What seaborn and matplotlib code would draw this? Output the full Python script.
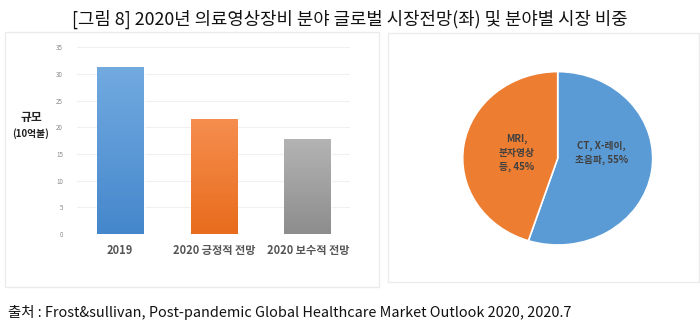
import numpy as np
import pandas as pd
import matplotlib
matplotlib.use("Agg")
import matplotlib.pyplot as plt
from matplotlib.patches import Rectangle
import seaborn as sns

# Market size (billion USD) by scenario
categories = ["2019", "2020 긍정적 전망", "2020 보수적 전망"]
market_size = [31.3, 21.6, 17.9]
y_ticks = [0, 5, 10, 15, 20, 25, 30, 35]

# Segment share of the market (%)
segments = ["CT, X-레이,\n초음파", "MRI,\n분자영상\n등"]
shares = [55, 45]

bar_tops = ["#72aae0", "#f68e4f", "#b4b4b4"]
bar_bottoms = ["#4587cc", "#e86c1c", "#8d8d8d"]
pie_colors = ["#5b9bd5", "#ed7d31"]

sns.set_theme(style="white")
plt.rcParams["font.family"] = ["Noto Sans CJK KR", "DejaVu Sans"]

W, H = 700, 325
fig = plt.figure(figsize=(W / 100, H / 100), dpi=100)
fig.patch.set_facecolor("white")


def fx(px):
    return px / W


def fy(py):
    return 1 - py / H


# panel frames
for x0, y0, x1, y1 in [(5, 32, 379, 287), (388, 33, 699, 282)]:
    fig.patches.append(Rectangle((fx(x0), fy(y1)), fx(x1 - x0), (y1 - y0) / H,
                                 transform=fig.transFigure, fill=False,
                                 edgecolor="#ebebeb", linewidth=1.0))

fig.text(0.5, fy(19), "[그림 8] 2020년 의료영상장비 분야 글로벌 시장전망(좌) 및 분야별 시장 비중",
         ha="center", va="center", fontsize=12.8, color="#111111")
fig.text(fx(8), fy(312), "출처 : Frost&sullivan, Post-pandemic Global Healthcare Market Outlook 2020, 2020.7",
         ha="left", va="center", fontsize=10.4, color="#111111")

# ---- bar chart ----
ax = fig.add_axes([fx(77), fy(234), fx(350 - 77), (234 - 47.3) / H])
df = pd.DataFrame({"cat": categories, "size": market_size})
sns.barplot(data=df, x="cat", y="size", ax=ax, width=0.5,
            palette=bar_bottoms, hue="cat", legend=False, saturation=1)
ax.set_yticks(y_ticks)
ax.set_yticklabels([str(t) for t in y_ticks], fontsize=4.5, color="#888888")
ax.tick_params(axis="y", length=0, pad=10)
ax.tick_params(axis="x", length=0, pad=7)
ax.set_xticks(range(len(categories)))
ax.set_xticklabels(categories, fontsize=8, color="#555555", fontweight="bold")
ax.yaxis.grid(True, color="#f0f0f0", linewidth=0.8)
ax.set_axisbelow(True)
for s in ax.spines.values():
    s.set_visible(False)
ax.set_xlabel("")
ax.set_ylabel("")

# vertical gradient fill on each bar
for patch, top, bot in zip(ax.patches, bar_tops, bar_bottoms):
    x0, y0 = patch.get_x(), patch.get_y()
    w, h = patch.get_width(), patch.get_height()
    c_top = np.array(matplotlib.colors.to_rgb(top))
    c_bot = np.array(matplotlib.colors.to_rgb(bot))
    t = np.linspace(0, 1, 256)[:, None]
    grad = (c_top * (1 - t) + c_bot * t)[:, None, :]
    im = ax.imshow(grad, extent=[x0, x0 + w, y0, y0 + h], origin="upper",
                   aspect="auto", zorder=patch.get_zorder() + 0.1)
    im.set_clip_path(patch)
ax.set_xlim(-0.46, 2.45)
ax.set_ylim(0, 35)

fig.text(fx(31), fy(118), "규모", ha="center", va="center", fontsize=8.5,
         fontweight="bold", color="#222222")
fig.text(fx(31), fy(134), "(10억불)", ha="center", va="center", fontsize=7,
         fontweight="bold", color="#222222")

# ---- pie chart ----
pax = fig.add_axes([fx(462.7), fy(245), fx(190), 173.4 / H])
wedges, _ = pax.pie(shares, colors=pie_colors, startangle=90, counterclock=False,
                    wedgeprops=dict(edgecolor="white", linewidth=1.2))
pax.set_aspect("auto")
pax.set_xlim(-1, 1)
pax.set_ylim(-1, 1)
pax.text(0.46, 0.06, f"{segments[0]}, {shares[0]}%", ha="center", va="center",
         fontsize=7, fontweight="bold", color="#404040", linespacing=1.5)
pax.text(-0.43, 0.06, f"{segments[1]}, {shares[1]}%", ha="center", va="center",
         fontsize=7, fontweight="bold", color="#404040", linespacing=1.5)

fig.savefig("out.png", dpi=100, facecolor="white")
